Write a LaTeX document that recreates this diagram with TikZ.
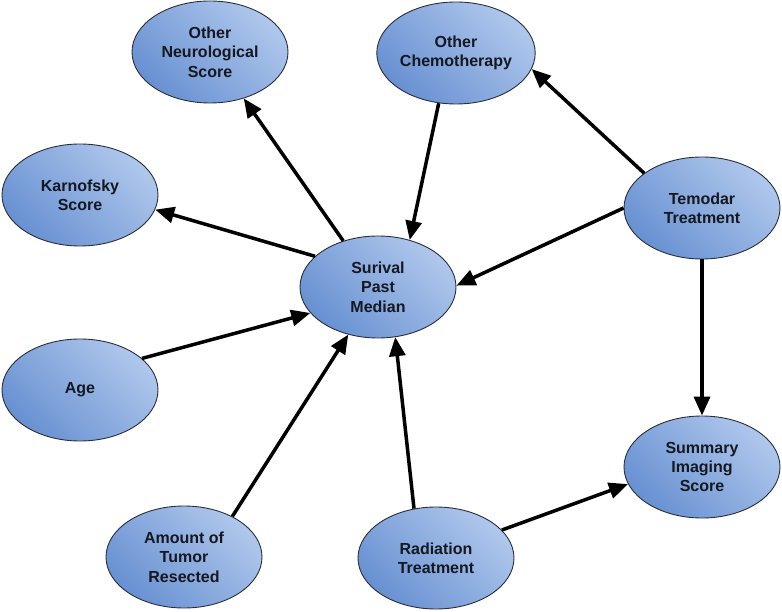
\documentclass[tikz,border=0pt]{standalone}
\usepackage{fontspec}
\setmainfont{Liberation Sans}
\usetikzlibrary{arrows.meta,shapes.geometric}
\definecolor{elight}{HTML}{AFC7EC}
\definecolor{edark}{HTML}{6891D2}
\definecolor{eborder}{HTML}{2A2D3A}
\definecolor{etext}{HTML}{151820}
\tikzset{
  var/.style={ellipse, draw=eborder, line width=0.9pt, top color=elight, bottom color=edark, shading angle=-45,
    minimum width=156pt, minimum height=102pt, inner sep=0pt, align=center, text=etext,
    font=\fontsize{16}{19.3}\selectfont\bfseries},
  link/.style={line width=3.5pt, -{Triangle[length=19pt,width=16pt]}}
}
\begin{document}
\begin{tikzpicture}[x=1pt,y=-1pt]
\useasboundingbox (0,0) rectangle (782,612);
\node[var] (neuro) at (210,52) {Other\\Neurological\\Score};
\node[var] (chemo) at (456,53) {Other\\Chemotherapy};
\node[var] (karn) at (80,195) {Karnofsky\\Score};
\node[var] (temo) at (702,208) {Temodar\\Treatment};
\node[var] (surv) at (378,287) {Surival\\Past\\Median};
\node[var] (age) at (80,390) {Age};
\node[var] (summ) at (702,467) {Summary\\Imaging\\Score};
\node[var] (amount) at (184,557) {Amount of\\Tumor\\Resected};
\node[var] (rad) at (436,558) {Radiation\\Treatment};

\draw[link] (surv.127) -- (neuro.306);
\draw[link] (surv.154) -- (karn.349);
\draw[link] (chemo.251) -- (surv.56);
\draw[link] (temo.149) -- (chemo.348);
\draw[link] (temo.180) -- (surv.1);
\draw[link] (temo.270) -- (summ.90);
\draw[link] (age.27) -- (surv.201);
\draw[link] (amount.40) -- (surv.238);
\draw[link] (rad.114) -- (surv.289);
\draw[link] (rad.23) -- (summ.193);
\end{tikzpicture}
\end{document}
